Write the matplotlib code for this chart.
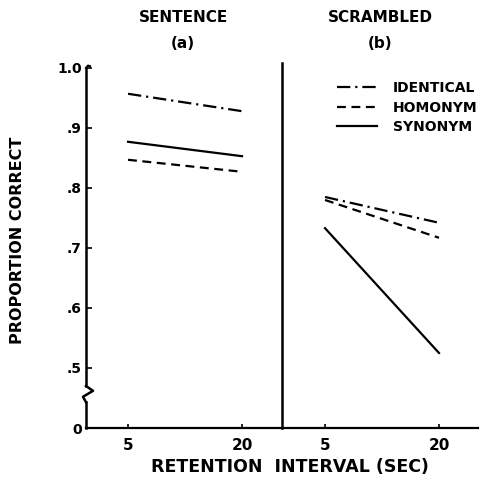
import matplotlib
matplotlib.use("Agg")
import matplotlib.pyplot as plt
from matplotlib.lines import Line2D

plt.rcParams['font.family'] = ['DejaVu Sans']
plt.rcParams['font.weight'] = 'bold'

# ---- data ----
intervals = [5, 20]
interval_labels = ["5", "20"]
sent_identical = [0.957, 0.928]
sent_homonym = [0.847, 0.827]
sent_synonym = [0.877, 0.853]
scr_identical = [0.785, 0.742]
scr_homonym = [0.780, 0.717]
scr_synonym = [0.733, 0.525]
ytick_vals = [0.4, 0.5, 0.6, 0.7, 0.8, 0.9, 1.0]
ytick_labels = ["0", ".5", ".6", ".7", ".8", ".9", "1.0"]
series_names = ["IDENTICAL", "HOMONYM", "SYNONYM"]

W, H = 483, 480
fig = plt.figure(figsize=(W / 100, H / 100), dpi=100)

def fx(px):
    return px / W

def fy(py):
    return 1 - py / H

axL = fig.add_axes([fx(86), fy(428), fx(196), (428 - 63) / H])
axR = fig.add_axes([fx(282), fy(428), fx(196), (428 - 63) / H])

styles = {
    "IDENTICAL": dict(ls=(0, (6, 2.2, 1, 2.2))),
    "HOMONYM": dict(ls=(0, (4, 2.5))),
    "SYNONYM": dict(ls='-'),
}
lw = 1.6

for ax, data, xl in [
    (axL, [sent_identical, sent_homonym, sent_synonym], (-0.53, 25.26)),
    (axR, [scr_identical, scr_homonym, scr_synonym], (-0.66, 25.13)),
]:
    for name, vals in zip(series_names, data):
        ax.plot(intervals, vals, color='black', lw=lw, **styles[name])
    ax.set_xlim(*xl)
    ax.set_ylim(0.4, 1.0083)
    ax.set_xticks(intervals)
    ax.set_xticklabels(interval_labels, fontsize=11, fontweight='bold')
    ax.tick_params(axis='x', direction='in', length=3, width=1.2, pad=7)
    for s in ['top', 'right']:
        ax.spines[s].set_visible(False)
    ax.spines['bottom'].set_linewidth(1.6)

# left axes: y ticks + manual broken spine
axL.spines['left'].set_visible(False)
axL.set_yticks(ytick_vals)
axL.set_yticklabels(ytick_labels, fontsize=10, fontweight='bold')
axL.tick_params(axis='y', direction='in', length=4, width=1.2, pad=3)
tr = axL.get_yaxis_transform()
px = 1 / 196
axL.plot([0, 0], [0.4, 0.443], color='black', lw=1.8, transform=tr, clip_on=False)
axL.plot([0, -3 * px, 7 * px, 0], [0.443, 0.452, 0.462, 0.470],
         color='black', lw=1.8, transform=tr, clip_on=False)
axL.plot([0, 0], [0.470, 1.0], color='black', lw=1.8, transform=tr, clip_on=False)
axL.plot([0, 2 * px, 4 * px], [1.0, 1.004, 1.003], color='black', lw=1.5,
         transform=tr, clip_on=False)

# right axes: divider line, no y ticks
axR.spines['left'].set_linewidth(1.8)
axR.set_yticks([])

# titles
fig.text(fx(183), fy(17), "SENTENCE", ha='center', va='center', fontsize=11, fontweight='bold')
fig.text(fx(183), fy(44), "(a)", ha='center', va='center', fontsize=11, fontweight='bold')
fig.text(fx(380), fy(17), "SCRAMBLED", ha='center', va='center', fontsize=11, fontweight='bold')
fig.text(fx(380), fy(44), "(b)", ha='center', va='center', fontsize=11, fontweight='bold')

# axis labels
fig.text(fx(18), fy(240), "PROPORTION CORRECT", rotation=90, ha='center', va='center',
         fontsize=11.5, fontweight='bold')
fig.text(fx(290), fy(467), "RETENTION  INTERVAL (SEC)", ha='center', va='center',
         fontsize=12.5, fontweight='bold')

# legend
handles = [Line2D([], [], color='black', lw=lw, **styles[n]) for n in series_names]
leg = fig.legend(handles, series_names, loc='upper left',
                 bbox_to_anchor=(fx(337), fy(81)), bbox_transform=fig.transFigure,
                 frameon=False, fontsize=10, handlelength=2.9, handletextpad=1.1,
                 labelspacing=0.4, borderpad=0, borderaxespad=0)
for t in leg.get_texts():
    t.set_fontweight('bold')

fig.savefig("out.png", dpi=100)
